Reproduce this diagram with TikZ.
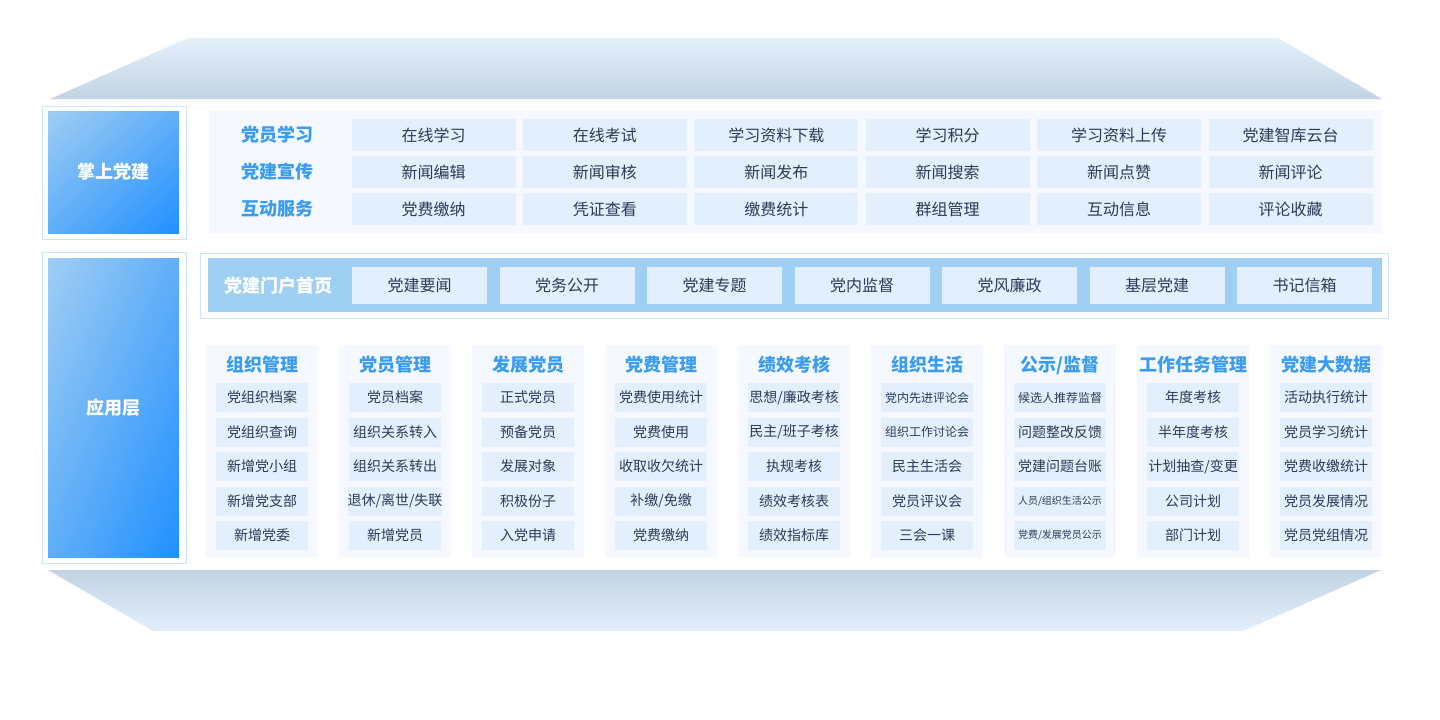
\documentclass[tikz,border=0pt]{standalone}
\usepackage{fontspec}
\usetikzlibrary{shadings}
\newfontfamily\cjk{Noto Sans CJK SC}
\newcommand\smallcell{\fontsize{12}{12}\selectfont}
\newcommand\tinycell{\fontsize{10}{10}\selectfont}
\definecolor{cellbg}{HTML}{E3EFFD}
\definecolor{panelbg}{HTML}{F5F9FF}
\definecolor{txt}{HTML}{2B3B57}
\definecolor{headblue}{HTML}{3A9CF0}
\definecolor{portalbg}{HTML}{A0CFF4}
\definecolor{framec}{HTML}{CFE3F7}
\definecolor{boxlight}{HTML}{A0CEF4}
\definecolor{boxdark}{HTML}{2090FF}
\definecolor{boxmid}{HTML}{60AEF8}
\definecolor{bandlight}{HTML}{E4EFFC}
\definecolor{banddark}{HTML}{C2D3E3}

\begin{document}
\begin{tikzpicture}[x=1pt,y=-1pt,
    cell/.style={fill=cellbg, inner sep=0pt, text=txt, font=\cjk\fontsize{16}{16}\selectfont},
    topcell/.style={cell, minimum width=164pt, minimum height=32pt},
    portalcell/.style={cell, minimum width=135pt, minimum height=37pt},
    colcell/.style={cell, minimum width=92pt, minimum height=29pt, font=\cjk\fontsize{14}{14}\selectfont},
    head/.style={text=headblue, inner sep=0pt, font=\cjk\bfseries\fontsize{18}{18}\selectfont},
    frame/.style={draw=framec, fill=white, line width=1pt},
    sidebox/.style={upper left=boxlight, lower right=boxdark, upper right=boxmid, lower left=boxmid,
        text=white, inner sep=0pt, minimum width=131pt, font=\cjk\bfseries\fontsize{18}{18}\selectfont}]
    \useasboundingbox (0,0) rectangle (1440,720);

    % top band
    \shade[top color=bandlight, bottom color=banddark] (188,38) -- (1278,38) -- (1382,99) -- (50,99) -- cycle;

    % mobile block
    \draw[frame] (42,106) rectangle (186,239);
    \node[sidebox, minimum height=122pt] (mobile) at (113.5,172) {掌上党建};
    \fill[panelbg] (209,111) rectangle (1382,233);
    \foreach \lab/\items [count=\r] in {
        党员学习/{在线学习,在线考试,学习资料下载,学习积分,学习资料上传,党建智库云台},
        党建宣传/{新闻编辑,新闻审核,新闻发布,新闻搜索,新闻点赞,新闻评论},
        互动服务/{党费缴纳,凭证查看,缴费统计,群组管理,互动信息,评论收藏}}{
        \node[head] (row\r) at (277.5,98+37*\r) {\lab};
        \foreach \t [count=\c] in \items
            \node[topcell] (top\r-\c) at (262.1+171.4*\c,98+37*\r) {\t};
    }

    % application block
    \draw[frame] (42,252) rectangle (186,563);
    \node[sidebox, minimum height=299pt] (app) at (113.5,407.5) {应用层};

    % portal row
    \draw[frame] (200.5,253) rectangle (1388,318);
    \fill[portalbg] (208,258) rectangle (1382,312);
    \node[head, text=white] (portal) at (278.5,285.5) {党建门户首页};
    \foreach \t [count=\c] in {党建要闻,党务公开,党建专题,党内监督,党风廉政,基层党建,书记信箱}
        \node[portalcell] (portal\c) at (272+147.5*\c,285.5) {\t};

    % columns
    \foreach \hd/\items [count=\k] in {
        组织管理/{党组织档案,党组织查询,新增党小组,新增党支部,新增党委},
        党员管理/{党员档案,组织关系转入,组织关系转出,退休/离世/失联,新增党员},
        发展党员/{正式党员,预备党员,发展对象,积极份子,入党申请},
        党费管理/{党费使用统计,党费使用,收取收欠统计,补缴/免缴,党费缴纳},
        绩效考核/{思想/廉政考核,民主/班子考核,执规考核,绩效考核表,绩效指标库},
        组织生活/{\smallcell 党内先进评论会,\smallcell 组织工作讨论会,民主生活会,党员评议会,三会一课},
        {公示/监督}/{\smallcell 候选人推荐监督,问题整改反馈,党建问题台账,\tinycell 人员/组织生活公示,\tinycell 党费/发展党员公示},
        工作任务管理/{年度考核,半年度考核,计划抽查/变更,公司计划,部门计划},
        党建大数据/{活动执行统计,党员学习统计,党费收缴统计,党员发展情况,党员党组情况}}{
        \fill[panelbg] (73+133*\k,345) rectangle (185+133*\k,557);
        \node[head] (col\k) at (129+133*\k,365) {\hd};
        \foreach \t [count=\r] in \items
            \node[colcell] (item\k-\r) at (129+133*\k,363+34.5*\r) {\t};
    }

    % bottom band
    \shade[top color=banddark, bottom color=bandlight] (48,570) -- (1381,570) -- (1243,631) -- (153,631) -- cycle;
\end{tikzpicture}
\end{document}
